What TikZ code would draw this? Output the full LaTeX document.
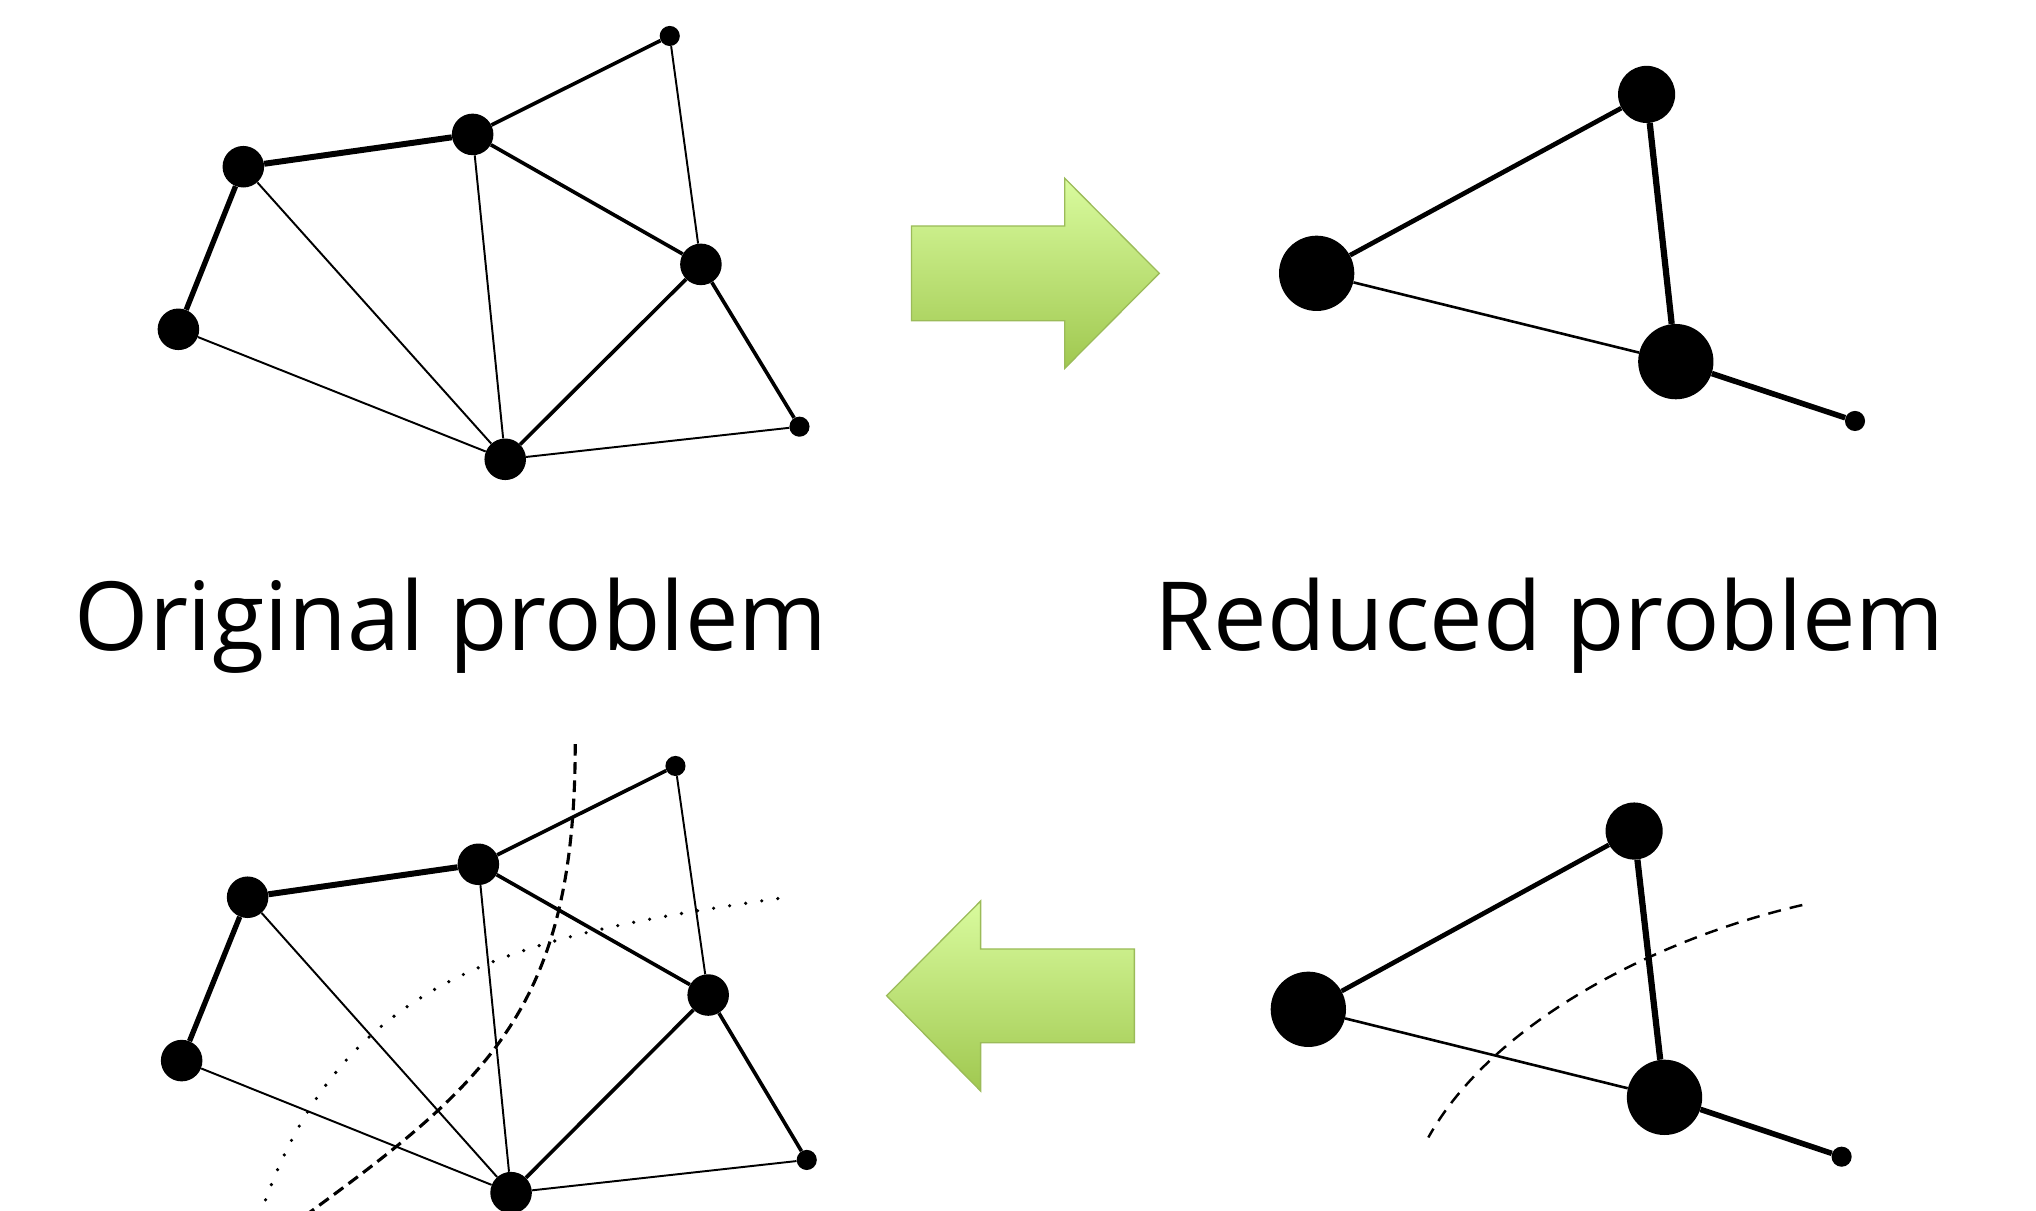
\documentclass[tikz,border=0pt]{standalone}
\usepackage{fontspec}
\setmainfont{Open Sans}
\begin{document}
\begin{tikzpicture}[x=1pt,y=-1pt,
  vbig/.style={circle,fill=black,inner sep=0pt,minimum size=32pt},
  vsmall/.style={circle,fill=black,inner sep=0pt,minimum size=15.5pt},
  rbig/.style={circle,fill=black,inner sep=0pt,minimum size=58pt},
  rmid/.style={circle,fill=black,inner sep=0pt,minimum size=44pt},
  ethin/.style={line width=1.5pt},
  emed/.style={line width=2.8pt},
  ethick/.style={line width=4.1pt},
  ebold/.style={line width=4.6pt},
  greenarrow/.style={draw=arrowborder,line width=1pt,top color=arrowtop,bottom color=arrowbottom,line join=miter},
  cutdash/.style={line width=2.4pt,dash pattern=on 9pt off 5pt},
  cutdot/.style={line width=2.8pt,line cap=round,dash pattern=on 0pt off 12.5pt},
  cutdashr/.style={line width=1.9pt,dash pattern=on 10pt off 7pt},
  label/.style={inner sep=0pt,anchor=base,font=\fontsize{73.5}{88}\selectfont}
]
\definecolor{arrowtop}{RGB}{217,251,158}
\definecolor{arrowbottom}{RGB}{160,200,80}
\definecolor{arrowborder}{RGB}{155,187,89}
\useasboundingbox (0,0) rectangle (1568,932);
\clip (0,0) rectangle (1568,932);

% ---------- top-left: original graph ----------
\node[vbig]   (a1) at (137.4,253.6) {};
\node[vbig]   (a2) at (187.4,128.4) {};
\node[vbig]   (a3) at (364,103.5) {};
\node[vsmall] (a4) at (515.8,27.7) {};
\node[vbig]   (a5) at (539.8,203.6) {};
\node[vsmall] (a6) at (615.7,328.6) {};
\node[vbig]   (a7) at (389.1,353.7) {};
\draw[ethick] (a1) -- (a2);
\draw[ebold]  (a2) -- (a3);
\draw[emed]   (a3) -- (a4);
\draw[emed]   (a3) -- (a5);
\draw[ethin]  (a4) -- (a5);
\draw[emed]   (a5) -- (a7);
\draw[emed]   (a5) -- (a6);
\draw[ethin]  (a6) -- (a7);
\draw[ethin]  (a7) -- (a1);
\draw[ethin]  (a7) -- (a2);
\draw[ethin]  (a7) -- (a3);

% ---------- top-right: reduced graph ----------
\node[rbig]   (c1) at (1014,210.5) {};
\node[rmid]   (c2) at (1268.1,72.7) {};
\node[rbig]   (c3) at (1290.6,278.5) {};
\node[vsmall] (c4) at (1428.6,324.2) {};
\draw[line width=3.6pt] (c1) -- (c2);
\draw[line width=4.8pt] (c2) -- (c3);
\draw[line width=2pt]   (c1) -- (c3);
\draw[line width=4.3pt] (c3) -- (c4);

% ---------- arrows ----------
\path[greenarrow] (702,174) -- (820,174) -- (820,137.3) -- (892.8,210.5)
  -- (820,283.7) -- (820,247) -- (702,247) -- cycle;
\path[greenarrow] (873.6,730.8) -- (755.2,730.8) -- (755.2,693.9) -- (682.8,766.8)
  -- (755.2,840.2) -- (755.2,803) -- (873.6,803) -- cycle;

% ---------- labels ----------
\node[label] (t1) at (347.3,501) {Original problem};
\node[label] (t2) at (1193.4,501) {Reduced problem};

% ---------- bottom-left: original graph with cuts ----------
\node[vbig]   (b1) at (139.9,816.8) {};
\node[vbig]   (b2) at (190.7,691) {};
\node[vbig]   (b3) at (368.4,665.6) {};
\node[vsmall] (b4) at (520.2,589.9) {};
\node[vbig]   (b5) at (545.4,766.3) {};
\node[vsmall] (b6) at (621.3,893.3) {};
\node[vbig]   (b7) at (393.6,918.5) {};
\draw[ethick] (b1) -- (b2);
\draw[ebold]  (b2) -- (b3);
\draw[emed]   (b3) -- (b4);
\draw[emed]   (b3) -- (b5);
\draw[ethin]  (b4) -- (b5);
\draw[emed]   (b5) -- (b7);
\draw[emed]   (b5) -- (b6);
\draw[ethin]  (b6) -- (b7);
\draw[ethin]  (b7) -- (b1);
\draw[ethin]  (b7) -- (b2);
\draw[ethin]  (b7) -- (b3);
\draw[cutdash] (443,573) .. controls (443,773) and (378,832) .. (238,934);
\draw[cutdot] (599,692) .. controls (399,721) and (264,749) .. (201,934);

% ---------- bottom-right: reduced graph with cut ----------
\node[rbig]   (d1) at (1007.6,777.3) {};
\node[rmid]   (d2) at (1258.5,640) {};
\node[rbig]   (d3) at (1281.9,845.1) {};
\node[vsmall] (d4) at (1418.3,890.8) {};
\draw[line width=3.6pt] (d1) -- (d2);
\draw[line width=4.8pt] (d2) -- (d3);
\draw[line width=2pt]   (d1) -- (d3);
\draw[line width=4.3pt] (d3) -- (d4);
\draw[cutdashr] (1388,697) .. controls (1278,722.3) and (1150.4,786) .. (1100,876);
\end{tikzpicture}
\end{document}
